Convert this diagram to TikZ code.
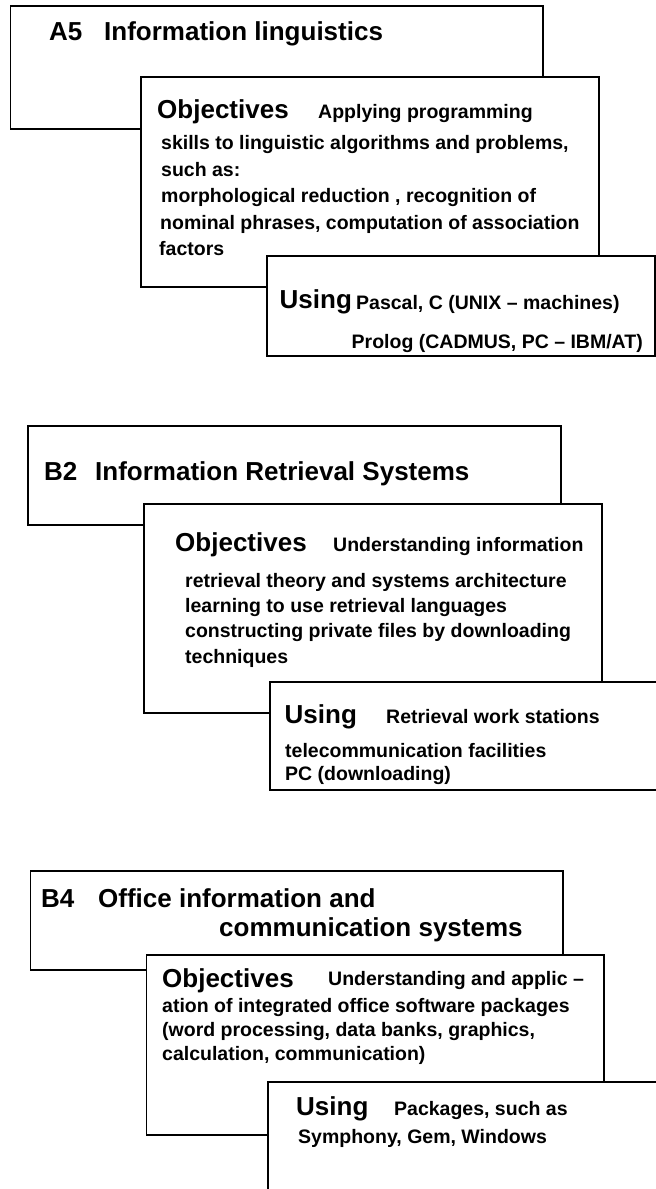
\documentclass[tikz,border=0pt]{standalone}
\usepackage{fontspec}
\setmainfont{Liberation Sans}
\begin{document}
\begin{tikzpicture}[x=1pt,y=-1pt,
  panel/.style={draw=black, fill=white, line width=1.2pt},
  head/.style={anchor=base west, inner sep=0pt, font=\fontsize{26}{30}\selectfont\bfseries},
  body/.style={anchor=base west, inner sep=0pt, font=\fontsize{19.5}{24}\selectfont\bfseries}]
\useasboundingbox (0,0) rectangle (656,1189);
\fill[white] (0,0) rectangle (656,1189);
% ---------------- A5 ----------------
\draw[panel] (10.5,6) rectangle (543,129);
\draw[panel] (141,77) rectangle (599,287);
\draw[panel] (267,256) rectangle (655,356);
\node[head] (a5code) at (49,40.5) {A5};
\node[head] (a5title) at (104,40.5) {Information linguistics};
\node[head] (a5obj) at (157,118) {Objectives};
\node[body] (a5o0) at (318,118) {Applying programming};
\node[body] (a5o1) at (161,149) {skills to linguistic algorithms and problems,};
\node[body] (a5o2) at (161,176) {such as:};
\node[body] (a5o3) at (161,202) {morphological reduction , recognition of};
\node[body] (a5o4) at (160,229) {nominal phrases, computation of association};
\node[body] (a5o5) at (159,255) {factors};
\node[head] (a5use) at (279.5,308) {Using};
\node[body] (a5u0) at (356,309) {Pascal, C (UNIX -- machines)};
\node[body] (a5u1) at (351.5,348) {Prolog (CADMUS, PC -- IBM/AT)};
% ---------------- B2 ----------------
\draw[panel] (28,426) rectangle (561,525);
\draw[panel] (144,504) rectangle (602,713);
\draw[panel] (270,682) rectangle (658,790);
\node[head] (b2code) at (44,480) {B2};
\node[head] (b2title) at (95,480) {Information Retrieval Systems};
\node[head] (b2obj) at (175,551) {Objectives};
\node[body] (b2o0) at (333,551) {Understanding information};
\node[body] (b2o1) at (185,587) {retrieval theory and systems architecture};
\node[body] (b2o2) at (185,612) {learning to use retrieval languages};
\node[body] (b2o3) at (185,637) {constructing private files by downloading};
\node[body] (b2o4) at (185,663) {techniques};
\node[head] (b2use) at (284.5,723) {Using};
\node[body] (b2u0) at (386,723) {Retrieval work stations};
\node[body] (b2u1) at (285,757) {telecommunication facilities};
\node[body] (b2u2) at (285,780) {PC (downloading)};
% ---------------- B4 ----------------
\draw[panel] (30.5,871) rectangle (563,970);
\draw[panel] (146.5,955) rectangle (604,1135);
\draw[panel] (268,1082) rectangle (660,1200);
\node[head] (b4code) at (41,907) {B4};
\node[head] (b4title) at (98,907) {Office information and};
\node[head] (b4title2) at (219,936) {communication systems};
\node[head] (b4obj) at (162,987) {Objectives};
\node[body] (b4o0) at (328,985) {Understanding and applic --};
\node[body] (b4o1) at (162,1012) {ation of integrated office software packages};
\node[body] (b4o2) at (162,1036) {(word processing, data banks, graphics,};
\node[body] (b4o3) at (162,1060) {calculation, communication)};
\node[head] (b4use) at (296,1115) {Using};
\node[body] (b4u0) at (394,1115) {Packages, such as};
\node[body] (b4u1) at (298,1143) {Symphony, Gem, Windows};
\end{tikzpicture}
\end{document}
